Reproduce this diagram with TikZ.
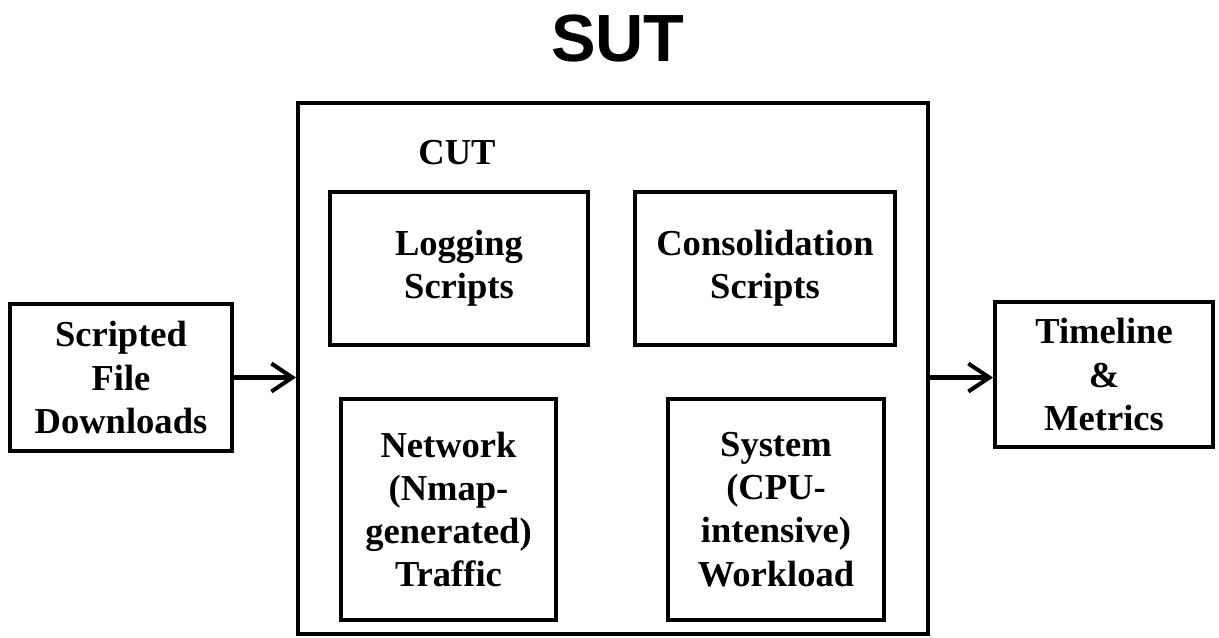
\documentclass[tikz,border=0pt]{standalone}
\usepackage{fontspec}
\setmainfont{Liberation Serif}
\newfontfamily\headfont{Liberation Sans}
\usetikzlibrary{arrows.meta}

\begin{document}
\begin{tikzpicture}[x=0.02cm, y=-0.02cm,
    blk/.style={draw, line width=2.3pt, align=center, inner sep=0pt,
      font=\fontsize{20.8}{24.6}\selectfont\bfseries},
    flow/.style={line width=2.3pt, -{Straight Barb[length=4.2mm,width=5.6mm]}}]
  \useasboundingbox (0,0) rectangle (1219,637);

  \node[font=\headfont\fontsize{38}{40}\selectfont\bfseries] (title) at (618, 39) {SUT};

  % system under test and its parts
  \node[blk, minimum width=12.6cm, minimum height=10.62cm] (sut) at (613, 368.5) {};
  \node[font=\fontsize{20.8}{24.6}\selectfont\bfseries] (cut) at (457, 153) {CUT};
  \node[blk, minimum width=5.16cm, minimum height=3.06cm] (log) at (459, 268.5) {Logging\\Scripts};
  \node[blk, minimum width=5.2cm, minimum height=3.06cm] (cons) at (765, 268.5) {Consolidation\\Scripts};
  \node[blk, minimum width=4.3cm, minimum height=4.42cm] (net) at (448.5, 509.5) {Network\\(Nmap-\\generated)\\Traffic};
  \node[blk, minimum width=4.32cm, minimum height=4.42cm] (sys) at (776, 509.5) {System\\(CPU-\\intensive)\\Workload};

  % input and output
  \node[blk, minimum width=4.44cm, minimum height=2.94cm] (dl) at (121, 377.5) {Scripted\\File\\Downloads};
  \node[blk, minimum width=4.36cm, minimum height=2.9cm] (tm) at (1104, 374.5) {Timeline\\\&\\Metrics};

  \draw[flow] (dl.east) -- (dl.east -| sut.west);
  \draw[flow] (sut.east |- dl.east) -- (dl.east -| tm.west);
\end{tikzpicture}
\end{document}
